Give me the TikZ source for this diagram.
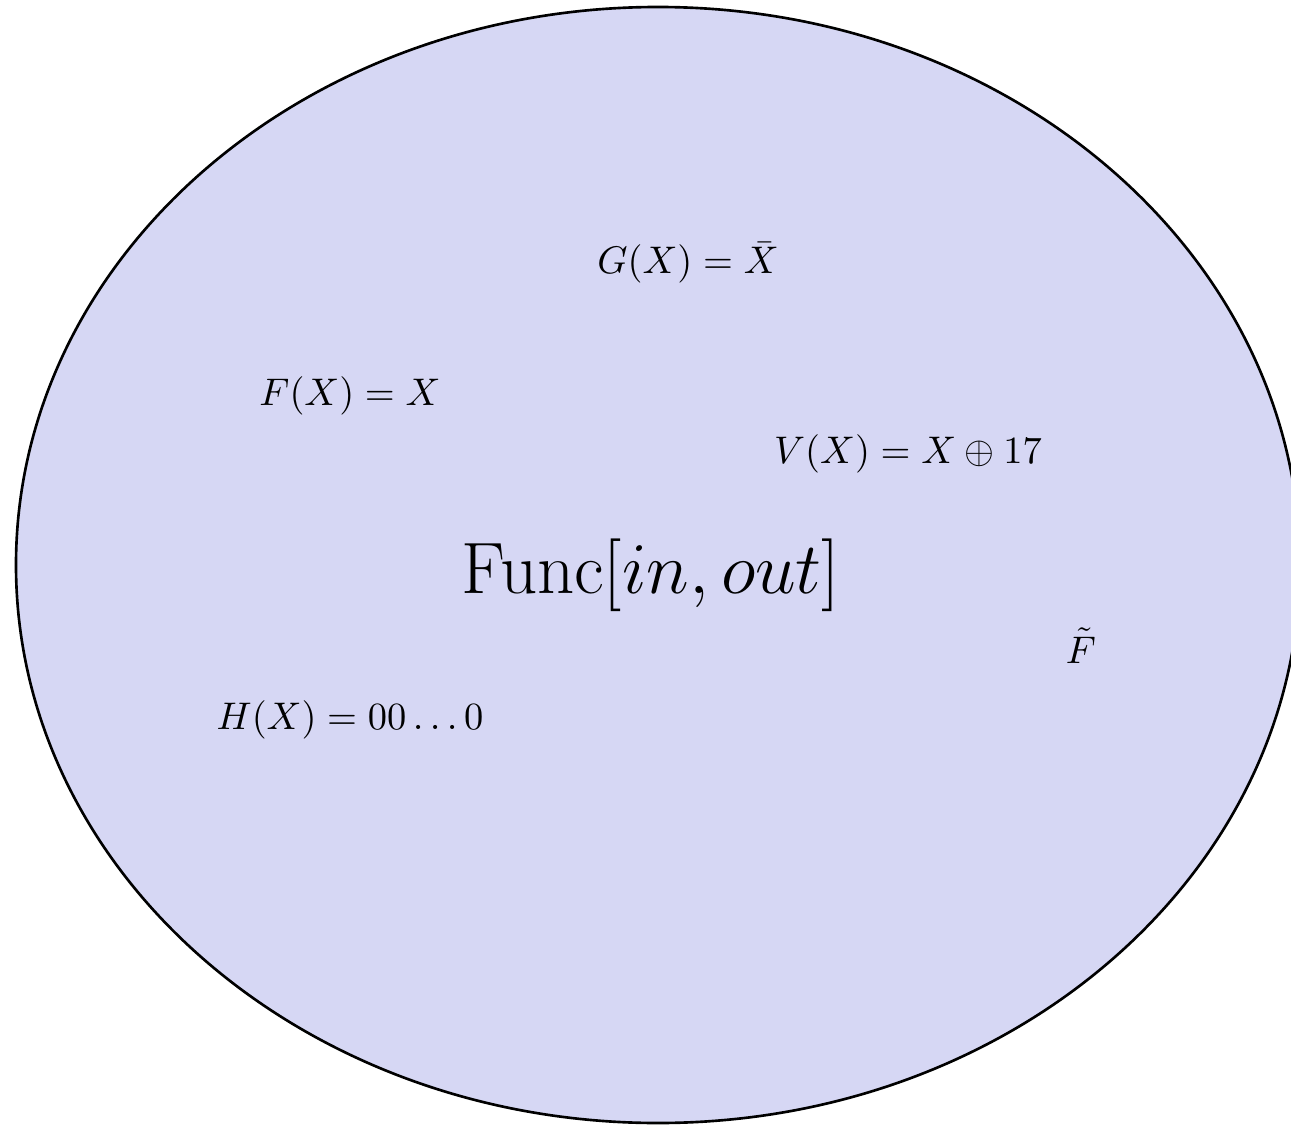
\documentclass[tikz,border=0pt]{standalone}
\usepackage{amsmath,amssymb}
\usepackage{tikz}
\usetikzlibrary{positioning}
\definecolor{funcfill}{RGB}{214,215,244}
\tikzset{fn/.style={font=\fontsize{11}{14}\selectfont,inner sep=0pt},
    big fn/.style={font=\fontsize{20}{24}\selectfont,inner sep=0pt}}

\begin{document}
\begin{tikzpicture}
\useasboundingbox (0,0) rectangle (12.91,11.25);

% Draw the set of all functions
\filldraw[funcfill, draw=black, line width=0.75pt] (6.58,5.6) ellipse (6.42cm and 5.58cm);

% Label the set
\node[big fn] (func) at (6.51,5.5) {$\mathrm{Func}[in,out]$};

% Some members of the set
\node[fn] (g) at (6.88,8.62) {$G(X)=\bar{X}$};
\node[fn] (f) at (3.5,7.29) {$F(X)=X$};
\node[fn] (v) at (9.08,6.71) {$V(X)=X\oplus 17$};
\node[fn] (ft) at (10.81,4.79) {$\tilde{F}$};
\node[fn] (h) at (3.5,4.05) {$H(X)=00\ldots0$};
\end{tikzpicture}
\end{document}
